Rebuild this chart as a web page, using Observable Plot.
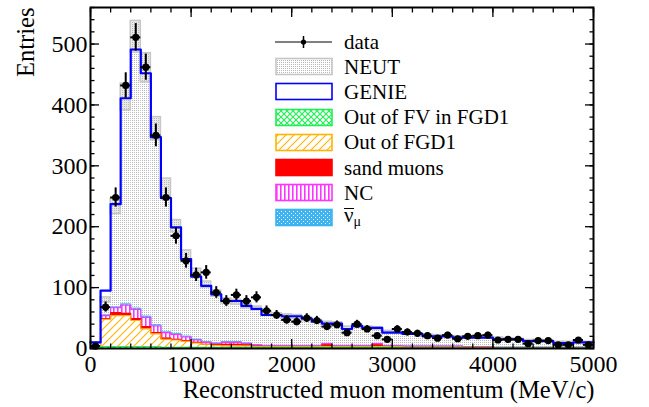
<!DOCTYPE html>
<html><head><meta charset="utf-8">
<script src="https://cdn.jsdelivr.net/npm/d3@7"></script>
<script src="https://cdn.jsdelivr.net/npm/@observablehq/plot@0.6"></script>
<style>
body{margin:0;background:#fff;}
#wrap{position:relative;width:649px;height:407px;font-family:"Liberation Serif","Times New Roman",serif;color:#000;}
#wrap svg text{font-family:"Liberation Serif","Times New Roman",serif;}
#legend{position:absolute;left:0;top:0;width:649px;height:407px;pointer-events:none;}
.lrow{position:absolute;left:275px;height:26px;display:flex;align-items:center;}
.lrow svg{flex:none;}
.lrow span.t{margin-left:11px;font-size:21px;line-height:21px;white-space:nowrap;}
.nubar{display:inline-block;border-top:1.6px solid #000;line-height:13px;padding-top:0px;margin-top:2px;}
</style></head><body>
<svg width="0" height="0" style="position:absolute">
<defs>
<pattern id="pDots" width="2" height="2" patternUnits="userSpaceOnUse"><rect width="2" height="2" fill="#fff"/><rect x="0" y="0" width="1" height="1" fill="#b8b8b8"/></pattern>
<pattern id="pGreen" width="6" height="6" patternUnits="userSpaceOnUse"><rect width="6" height="6" fill="#fff"/><path d="M0,0L6,6M6,0L0,6" stroke="#22ee55" stroke-width="1.2"/></pattern>
<pattern id="pOrange" width="8" height="8" patternUnits="userSpaceOnUse"><rect width="8" height="8" fill="#fff"/><path d="M-2,2L2,-2M0,8L8,0M6,10L10,6" stroke="#ffb400" stroke-width="1.1"/></pattern>
<pattern id="pPink" width="4" height="4" patternUnits="userSpaceOnUse"><rect width="4" height="4" fill="#fff"/><rect x="1" y="0" width="1.6" height="4" fill="#ff33ff"/></pattern>
<pattern id="pBlue" width="4" height="4" patternUnits="userSpaceOnUse"><rect width="4" height="4" fill="#3db4f2"/><rect x="0" y="0" width="1" height="1" fill="#fff"/><rect x="2" y="2" width="1" height="1" fill="#fff"/></pattern>
</defs></svg>
<div id="wrap"><div id="legend"></div></div>
<script>
// ---- data ----
const binLo = [0,100,200,300,400,500,600,700,800,900,1000,1100,1200,1300,1400,1500,1600,1700,1800,1900,
  2000,2100,2200,2300,2400,2500,2600,2700,2800,2900,3000,3100,3200,3300,3400,3500,3600,3700,3800,3900,
  4000,4100,4200,4300,4400,4500,4600,4700,4800,4900];
const binWidth = 100;
const dataCounts = [4,68,248,432,511,462,350,248,185,144,121,125,92,78,88,78,84,62,55,47,
  44,50,46,36,39,26,40,32,21,15,32,27,25,21,17,22,16,20,21,22,
  14,15,15,8,13,13,6,6,14,6];
const genie = [10,95,237,411,491,452,347,247,199,147,118,103,89,78,78,70,65,55,55,53,
  53,49,44,41,41,32,37,34,34,26,26,24,24,20,20,20,18,18,18,18,
  15,15,15,12,12,12,9,9,10,10];
const neut = [9,80,233,413,512,461,361,265,201,153,125,105,90,78,76,70,66,57,55,53,
  52,48,45,42,41,34,36,34,33,28,27,25,24,22,21,20,19,19,19,18,
  17,16,15,13,13,12,10,10,10,10];
const neutErr = [1,4,12,22,26,24,19,14,10,8,6,5,5,4,4,4,3,3,3,3,
  3,3,2,2,2,2,2,2,2,1,1,1,1,1,1,1,1,1,1,1,
  1,1,1,1,1,1,1,1,1,1];
const bkgOutFV = [1,3,3,3,3,3,3,2,2,2,2,2,2,2,2,2,2,2,2,2,
  2,2,2,2,2,2,2,2,2,2,2,1,1,1,1,1,1,1,1,1,
  1,1,1,1,1,1,1,1,1,1];
const bkgOutFGD1 = [2,45,51,51,43,29,21,13,12,10,7,5,3,2,2,2,1,1,1,1,
  1,1,1,1,1,1,1,1,1,1,1,1,1,1,1,1,1,1,1,1,
  0,0,0,0,0,0,0,0,0,0];
const bkgSand = [0,1,5,4,3,4,2,2,1,1,1,0,1,3,3,2,1,0,0,0,
  0,0,0,3,0,0,0,0,3,0,0,0,0,0,0,0,0,0,0,0,
  0,0,0,0,0,0,0,0,0,0];
const bkgNC = [1,5,8,13,15,15,11,9,8,6,4,3,2,3,3,2,2,2,2,2,
  2,2,2,2,2,2,2,2,2,2,2,2,2,2,2,2,2,1,1,1,
  1,1,1,1,1,1,1,1,1,1];
const bkgAntiNu = [0,1,1,2,2,2,2,1,1,1,1,1,1,1,1,1,0,0,0,0,
  0,0,0,0,0,0,0,0,0,0,0,0,0,0,0,0,0,0,0,0,
  0,0,0,0,0,0,0,0,0,0];
const yTicks = [0,100,200,300,400,500];
const yMinor = d3.range(0, 561, 20);
const xTicks = [0,1000,2000,3000,4000,5000];
const xMinor = d3.range(0, 5001, 200);
const xTitle = "Reconstructed muon momentum (MeV/c)";
const yTitle = "Entries";
const FONT = "Liberation Serif, Times New Roman, serif";

// ---- tables ----
const bins = binLo.map((lo, i) => ({lo, hi: lo + binWidth, c: lo + binWidth / 2,
  data: dataCounts[i], genie: genie[i], neut: neut[i], err: neutErr[i]}));

const layers = [
  {key: "Out of FV in FGD1", vals: bkgOutFV, fill: "url(#pGreen)", stroke: "#22ee55"},
  {key: "Out of FGD1", vals: bkgOutFGD1, fill: "url(#pOrange)", stroke: "#ffb400"},
  {key: "sand muons", vals: bkgSand, fill: "#ff0000", stroke: "#ff0000"},
  {key: "NC", vals: bkgNC, fill: "url(#pPink)", stroke: "#ff33ff"},
  {key: "antinu", vals: bkgAntiNu, fill: "url(#pBlue)", stroke: "#3db4f2"}
];
const cum = binLo.map(() => 0);
layers.forEach(L => {
  L.rows = []; L.steps = [];
  binLo.forEach((lo, i) => {
    const y1 = cum[i], y2 = cum[i] + L.vals[i];
    L.rows.push({lo, hi: lo + binWidth, y1, y2});
    L.steps.push({x: lo, y: y2}, {x: lo + binWidth, y: y2});
    cum[i] = y2;
  });
});
const genieSteps = [];
bins.forEach(b => { genieSteps.push({x: b.lo, y: b.genie}, {x: b.hi, y: b.genie}); });

const blank = () => "";
const tk = {label: null, strokeWidth: 1.3, tickFormat: blank};
const marks = [
  // NEUT (dotted) with error boxes
  Plot.rectY(bins, {x1: "lo", x2: "hi", y1: 0, y2: d => d.neut + d.err, fill: "url(#pDots)"}),
  Plot.rectY(bins, {x1: "lo", x2: "hi", y1: d => d.neut - d.err, y2: d => d.neut + d.err,
    fill: "#b8b8b8", fillOpacity: 0.3, stroke: "#c6c6c6", strokeWidth: 1.5}),
  // background stack
  ...layers.map(L => Plot.rectY(L.rows, {x1: "lo", x2: "hi", y1: "y1", y2: "y2", fill: L.fill})),
  ...layers.slice().reverse().map(L => Plot.line(L.steps, {x: "x", y: "y", stroke: L.stroke, strokeWidth: 1.1})),
  // GENIE
  Plot.line(genieSteps, {x: "x", y: "y", stroke: "#0000ff", strokeWidth: 2.2}),
  // data
  Plot.ruleX(bins, {x: "c", y1: d => d.data - Math.sqrt(d.data), y2: d => d.data + Math.sqrt(d.data), stroke: "#000", strokeWidth: 2}),
  Plot.ruleY(bins, {y: "data", x1: "lo", x2: "hi", stroke: "#000", strokeWidth: 2}),
  Plot.dot(bins, {x: "c", y: "data", r: 3.6, fill: "#000", stroke: "none"}),
  // axes (ROOT style: inward ticks on all sides)
  Plot.axisY(yTicks, {tickSize: 0, tickPadding: 3, fontSize: 24, fontFamily: FONT, tickFormat: d => String(d), label: null}),
  Plot.axisY(yTicks, {...tk, tickSize: -9}),
  Plot.axisY(yMinor, {...tk, tickSize: -4.5}),
  Plot.axisY(yTicks, {...tk, anchor: "right", tickSize: -9}),
  Plot.axisY(yMinor, {...tk, anchor: "right", tickSize: -4.5}),
  Plot.axisX(xTicks, {tickSize: 0, tickPadding: 6.5, fontSize: 24, fontFamily: FONT, tickFormat: d => String(d), label: null}),
  Plot.axisX(xTicks, {...tk, tickSize: -9}),
  Plot.axisX(xMinor, {...tk, tickSize: -4.5}),
  Plot.axisX(xTicks, {...tk, anchor: "top", tickSize: -9}),
  Plot.axisX(xMinor, {...tk, anchor: "top", tickSize: -4.5}),
  Plot.frame({stroke: "#000", strokeWidth: 2}),
  Plot.text([yTitle], {text: d => d, frameAnchor: "top-left", lineAnchor: "middle", rotate: -90, textAnchor: "end",
    dx: -64, dy: 0, fontSize: 24.5, fontFamily: FONT}),
  Plot.text([xTitle], {text: d => d, frameAnchor: "bottom-right", lineAnchor: "middle", textAnchor: "end",
    dx: 1, dy: 41.5, fontSize: 24.6, fontFamily: FONT})
];

const chart = Plot.plot({
  width: 649, height: 407,
  marginLeft: 90, marginRight: 56, marginTop: 7, marginBottom: 59,
  x: {domain: [0, 5000], label: null},
  y: {domain: [0, 560], label: null},
  style: {fontFamily: FONT, background: "#fff", color: "#000", overflow: "visible"},
  marks
});
const wrap = document.getElementById("wrap");
wrap.insertBefore(chart, wrap.firstChild);

// ---- legend overlay ----
const legendItems = [
  {label: "data", kind: "data"},
  {label: "NEUT", fill: "url(#pDots)", stroke: "#c6c6c6"},
  {label: "GENIE", fill: "#fff", stroke: "#0000ff"},
  {label: "Out of FV in FGD1", fill: "url(#pGreen)", stroke: "#22ee55"},
  {label: "Out of FGD1", fill: "url(#pOrange)", stroke: "#ffb400"},
  {label: "sand muons", fill: "#ff0000", stroke: "#ff0000"},
  {label: "NC", fill: "url(#pPink)", stroke: "#ff33ff"},
  {label: "antinu", fill: "url(#pBlue)", stroke: "#3db4f2", html: '<span class="nubar">ν</span><sub style="font-size:14px;vertical-align:-4px">μ</sub>'}
];
const leg = document.getElementById("legend");
legendItems.forEach((it, i) => {
  const row = document.createElement("div");
  row.className = "lrow";
  row.style.top = (29 + 25.2 * i) + "px";
  let sw;
  if (it.kind === "data") {
    sw = '<svg width="58" height="26"><line x1="0" y1="13" x2="57" y2="13" stroke="#000" stroke-width="1"/>' +
      '<line x1="28.5" y1="7" x2="28.5" y2="19" stroke="#000" stroke-width="1.5"/>' +
      '<circle cx="28.5" cy="13" r="2.6" fill="#000"/></svg>';
  } else {
    sw = '<svg width="58" height="26"><rect x="1" y="4.5" width="56" height="16" fill="' + it.fill +
      '" stroke="' + it.stroke + '" stroke-width="1.6"/></svg>';
  }
  const txt = it.html ? it.html : it.label;
  row.innerHTML = sw + '<span class="t">' + txt + '</span>';
  leg.appendChild(row);
});
</script>
</body></html>
